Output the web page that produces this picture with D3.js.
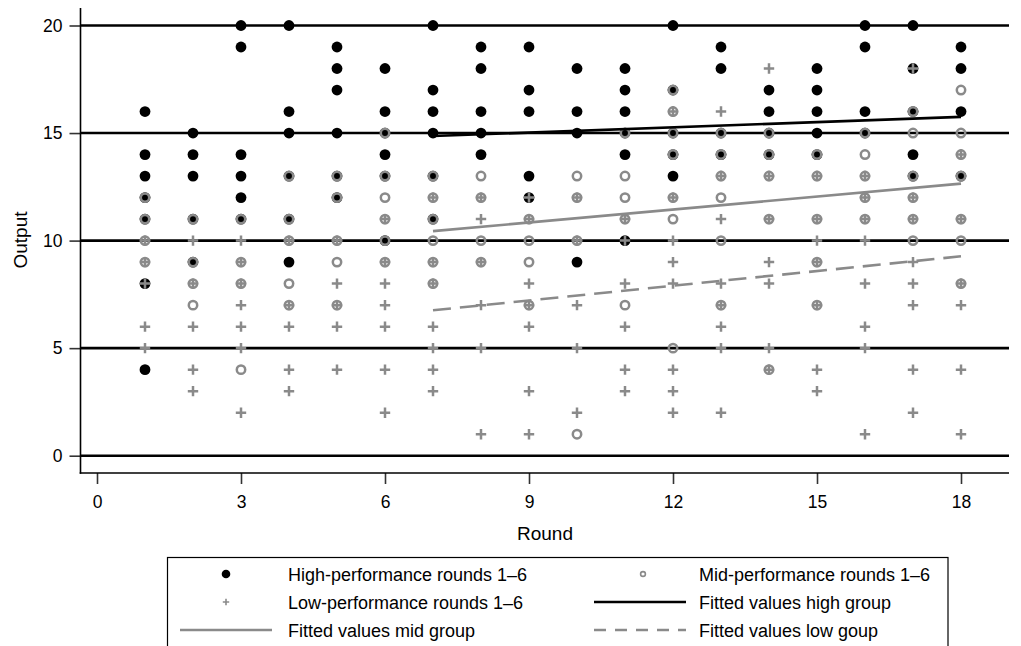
<!DOCTYPE html>
<html><head><meta charset="utf-8">
<script src="https://cdn.jsdelivr.net/npm/d3@7"></script>
<style>
body{margin:0;background:#fff}
svg{display:block}
text{font-family:"Liberation Sans",Arial,Helvetica,sans-serif;fill:#000}
</style>
</head><body><svg id="c" width="1021" height="646"></svg>
<script>
// ---------- data ----------
const rounds = [1,2,3,4,5,6,7,8,9,10,11,12,13,14,15,16,17,18];
// outputs per round (index i -> rounds[i])
const highValues = [
  [16,14,13,12,11,8,4],
  [15,14,13,11,9],
  [20,19,14,13,12,11],
  [20,16,15,13,11,9],
  [19,18,17,15,13,12],
  [18,16,15,14,13,10],
  [20,17,16,15,13,11],
  [19,18,16,15,14],
  [19,17,16,13,12],
  [18,16,15,9],
  [18,17,16,15,14,10],
  [20,17,15,14,13],
  [19,18,15,14],
  [17,16,15,14],
  [18,17,16,15,14],
  [20,19,16,15],
  [20,18,16,14,13],
  [19,18,16,13]
];
const midValues = [
  [12,11,10,9],
  [11,9,8,7],
  [11,9,8,4],
  [13,11,10,8,7],
  [13,12,10,9,7],
  [15,13,12,11,10,9],
  [13,12,11,10,9,8],
  [13,12,10,9],
  [11,10,9,7],
  [13,12,10,1],
  [15,13,12,11,7],
  [17,16,15,14,12,11,5],
  [15,14,13,12,10,7],
  [15,14,13,11,4],
  [14,13,11,9,7],
  [15,14,13,12,11],
  [16,15,13,12,11,10],
  [17,15,14,13,11,10,8]
];
const lowValues = [
  [10,9,8,6,5],
  [10,8,6,4,3],
  [10,9,8,7,6,5,2],
  [10,7,6,4,3],
  [10,8,7,6,4],
  [11,9,8,7,6,4,2],
  [12,9,8,6,5,4,3],
  [12,11,9,7,5,1],
  [12,11,8,7,6,3,1],
  [12,10,7,5,2],
  [11,10,8,6,4,3],
  [16,12,10,9,8,4,3,2],
  [16,13,11,8,7,6,5,2],
  [18,13,11,9,8,5,4],
  [13,11,10,9,7,4,3],
  [13,12,11,10,8,6,5,1],
  [18,12,11,9,8,7,4,2],
  [14,11,8,7,4,1]
];
// fitted lines: endpoints
const fitRounds = [7, 18];
const fitHigh = [14.86, 15.75];
const fitMid = [10.44, 12.65];
const fitLow = [6.76, 9.27];

const xTicks = [0,3,6,9,12,15,18];
const yTicks = [0,5,10,15,20];
const xTitle = "Round";
const yTitle = "Output";
const legendLabels = [
  "High-performance rounds 1\u20136",
  "Mid-performance rounds 1\u20136",
  "Low-performance rounds 1\u20136",
  "Fitted values high group",
  "Fitted values mid group",
  "Fitted values low goup"
];

// ---------- layout ----------
const GRAY = "#8a8a8a";
const svg = d3.select("#c");
const plotL = 80.5, plotR = 1009, plotT = 8, plotB = 473;
const x = d3.scaleLinear().domain([0,18]).range([97,961]);
const y = d3.scaleLinear().domain([0,20]).range([455.7,25.5]);

// gridlines
svg.append("g").selectAll("line").data(yTicks).join("line")
  .attr("x1", plotL).attr("x2", plotR)
  .attr("y1", d=>y(d)).attr("y2", d=>y(d))
  .attr("stroke","#000").attr("stroke-width",2.6);

// axes
const yAxis = svg.append("g").attr("transform",`translate(${plotL},0)`)
  .call(d3.axisLeft(y).tickValues(yTicks).tickSize(11).tickPadding(7));
const xAxis = svg.append("g").attr("transform",`translate(0,${plotB})`)
  .call(d3.axisBottom(x).tickValues(xTicks).tickSize(11).tickPadding(12));
[yAxis,xAxis].forEach(g=>{
  g.select(".domain").remove();
  g.selectAll(".tick line").attr("stroke","#333").attr("stroke-width",1.6);
  g.selectAll(".tick text").style("font-size","17.5px")
    .style("font-family",'"Liberation Sans",Arial,sans-serif').attr("fill","#000");
});
svg.append("line").attr("x1",plotL).attr("x2",plotL).attr("y1",plotT).attr("y2",plotB+0.7)
  .attr("stroke","#000").attr("stroke-width",1.6);
svg.append("line").attr("x1",plotL-0.8).attr("x2",plotR).attr("y1",plotB).attr("y2",plotB)
  .attr("stroke","#000").attr("stroke-width",1.6);

// titles
svg.append("text").attr("x",545).attr("y",540).attr("text-anchor","middle")
  .style("font-size","19px").text(xTitle);
svg.append("text").attr("transform","translate(27,240) rotate(-90)").attr("text-anchor","middle")
  .style("font-size","19px").text(yTitle);

// flatten helper
const flat = arr => arr.flatMap((vals,i)=>vals.map(v=>({r:rounds[i], v})));

// high: black filled circles
svg.append("g").selectAll("circle").data(flat(highValues)).join("circle")
  .attr("cx",d=>x(d.r)).attr("cy",d=>y(d.v)).attr("r",5.4).attr("fill","#000");
// mid: gray hollow circles
svg.append("g").selectAll("circle").data(flat(midValues)).join("circle")
  .attr("cx",d=>x(d.r)).attr("cy",d=>y(d.v)).attr("r",4.2)
  .attr("fill","none").attr("stroke",GRAY).attr("stroke-width",2.5);
// low: gray plus
const plus = s => `M${-s},0H${s}M0,${-s}V${s}`;
svg.append("g").selectAll("path").data(flat(lowValues)).join("path")
  .attr("transform",d=>`translate(${x(d.r)},${y(d.v)})`)
  .attr("d",plus(5.2)).attr("stroke",GRAY).attr("stroke-width",2.5).attr("fill","none");

// fitted lines
const line = d3.line().x(d=>x(d[0])).y(d=>y(d[1]));
const fitPts = vals => fitRounds.map((r,i)=>[r, vals[i]]);
svg.append("path").attr("d",line(fitPts(fitHigh))).attr("stroke","#000").attr("stroke-width",2.6).attr("fill","none");
svg.append("path").attr("d",line(fitPts(fitMid))).attr("stroke",GRAY).attr("stroke-width",2.6).attr("fill","none");
svg.append("path").attr("d",line(fitPts(fitLow))).attr("stroke",GRAY).attr("stroke-width",2.6)
  .attr("stroke-dasharray","18,9").attr("fill","none");

// legend
const lg = svg.append("g");
lg.append("rect").attr("x",167.5).attr("y",557.5).attr("width",780.5).attr("height",110)
  .attr("fill","#fff").attr("stroke","#000").attr("stroke-width",1.2);
const rowY = [577, 605, 633];
const col = [{m:226, l1:180, l2:272, t:288},{m:640, l1:594, l2:686, t:699}];
const items = [
  {c:0,r:0,type:"high"},{c:1,r:0,type:"mid"},
  {c:0,r:1,type:"low"},{c:1,r:1,type:"fitHigh"},
  {c:0,r:2,type:"fitMid"},{c:1,r:2,type:"fitLow"}
];
items.forEach((it,i)=>{
  const cy = rowY[it.r], cc = col[it.c];
  if(it.type==="high") lg.append("circle").attr("cx",cc.m).attr("cy",cy-3).attr("r",4.3).attr("fill","#000");
  if(it.type==="mid") lg.append("circle").attr("cx",cc.m+3).attr("cy",cy-3).attr("r",2.4)
    .attr("fill","none").attr("stroke",GRAY).attr("stroke-width",1.6);
  if(it.type==="low") lg.append("path").attr("transform",`translate(${cc.m},${cy-3})`)
    .attr("d",plus(3.2)).attr("stroke",GRAY).attr("stroke-width",1.6);
  const ls = {fitHigh:["#000",null],fitMid:[GRAY,null],fitLow:[GRAY,"12,9"]}[it.type];
  if(ls){
    const ln = lg.append("line").attr("x1",cc.l1).attr("x2",cc.l2).attr("y1",cy-3).attr("y2",cy-3)
      .attr("stroke",ls[0]).attr("stroke-width",2.4);
    if(ls[1]) ln.attr("stroke-dasharray",ls[1]);
  }
  lg.append("text").attr("x",cc.t).attr("y",cy+3.5).style("font-size","18px").text(legendLabels[i]);
});
</script>
</body></html>
